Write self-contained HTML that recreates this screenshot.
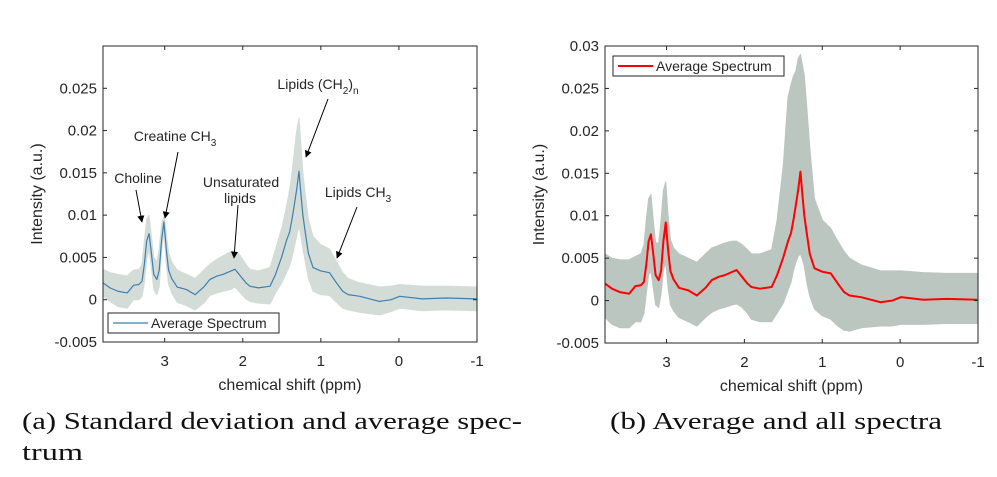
<!DOCTYPE html>
<html><head><meta charset="utf-8"><style>
body{margin:0;background:#fff;width:997px;height:477px;overflow:hidden}
svg{display:block}
text{font-family:"Liberation Sans",sans-serif;fill:#262626}
.cap{font-family:"Liberation Serif",serif;font-size:24px;fill:#111}
</style></head><body>
<svg id="s" width="997" height="477">
<defs><marker id="ah" viewBox="0 0 10 10" refX="9" refY="5" markerWidth="7" markerHeight="7" orient="auto"><path d="M0,0 L10,5 L0,10 z" fill="#000"/></marker></defs>
</svg>
<script>
const ppm   =[3.79,3.70,3.60,3.48,3.40,3.33,3.29,3.26,3.23,3.20,3.17,3.14,3.10,3.07,3.04,3.01,2.98,2.95,2.91,2.84,2.72,2.61,2.50,2.42,2.33,2.25,2.15,2.10,2.03,1.96,1.91,1.80,1.65,1.58,1.50,1.44,1.40,1.37,1.34,1.31,1.28,1.26,1.23,1.20,1.16,1.10,1.00,0.89,0.80,0.72,0.65,0.50,0.25,0.10,-0.01,-0.3,-0.6,-0.99];
const meanV =[0.0020,0.0014,0.0010,0.0008,0.0017,0.0018,0.0022,0.0042,0.0070,0.0078,0.0055,0.0030,0.0024,0.0035,0.0070,0.0092,0.0060,0.0035,0.0025,0.0015,0.0012,0.0006,0.0015,0.0024,0.0028,0.0030,0.0034,0.0036,0.0028,0.0020,0.0016,0.0014,0.0016,0.0030,0.0051,0.0070,0.0080,0.0095,0.0112,0.0130,0.0152,0.0130,0.0100,0.0080,0.0055,0.0038,0.0034,0.0032,0.0020,0.0010,0.0006,0.0004,-0.0002,0.0000,0.0004,0.0001,0.0002,0.0001];
const upperA=[0.0036,0.0032,0.0030,0.0028,0.0035,0.0036,0.0042,0.0070,0.0095,0.0100,0.0075,0.0050,0.0045,0.0060,0.0090,0.0098,0.0080,0.0055,0.0045,0.0035,0.0030,0.0025,0.0035,0.0042,0.0048,0.0052,0.0057,0.0058,0.0052,0.0042,0.0036,0.0034,0.0038,0.0060,0.0085,0.0110,0.0130,0.0150,0.0175,0.0200,0.0215,0.0190,0.0150,0.0125,0.0095,0.0075,0.0065,0.0060,0.0045,0.0032,0.0025,0.0020,0.0015,0.0016,0.0018,0.0016,0.0016,0.0015];
const lowerA=[0.0004,-0.0002,-0.0008,-0.0010,0.0000,0.0000,0.0004,0.0020,0.0048,0.0058,0.0038,0.0012,0.0006,0.0015,0.0055,0.0082,0.0042,0.0018,0.0008,-0.0003,-0.0007,-0.0012,-0.0004,0.0005,0.0008,0.0010,0.0012,0.0015,0.0008,0.0001,-0.0002,-0.0004,-0.0005,0.0008,0.0020,0.0032,0.0040,0.0050,0.0062,0.0075,0.0087,0.0078,0.0060,0.0045,0.0025,0.0010,0.0006,0.0005,-0.0003,-0.0010,-0.0012,-0.0015,-0.0018,-0.0014,-0.0010,-0.0013,-0.0012,-0.0013];
const allUp =[0.0055,0.0050,0.0048,0.0048,0.0052,0.0055,0.0065,0.0095,0.0120,0.0125,0.0095,0.0068,0.0068,0.0095,0.0130,0.0140,0.0100,0.0072,0.0062,0.0055,0.0050,0.0045,0.0055,0.0062,0.0065,0.0068,0.0070,0.0070,0.0066,0.0060,0.0055,0.0055,0.0060,0.0095,0.0160,0.0240,0.0255,0.0265,0.0270,0.0285,0.0290,0.0280,0.0265,0.0230,0.0180,0.0120,0.0095,0.0085,0.0070,0.0058,0.0050,0.0042,0.0035,0.0035,0.0035,0.0033,0.0032,0.0032];
const allLo =[-0.0020,-0.0028,-0.0032,-0.0032,-0.0025,-0.0025,-0.0015,0.0008,0.0030,0.0035,0.0015,-0.0005,-0.0008,0.0008,0.0035,0.0045,0.0015,-0.0005,-0.0012,-0.0020,-0.0025,-0.0030,-0.0020,-0.0014,-0.0010,-0.0008,-0.0005,-0.0004,-0.0008,-0.0015,-0.0022,-0.0025,-0.0025,-0.0015,-0.0003,0.0012,0.0022,0.0035,0.0045,0.0052,0.0055,0.0050,0.0040,0.0022,0.0005,-0.0010,-0.0018,-0.0022,-0.0030,-0.0035,-0.0036,-0.0032,-0.0030,-0.0030,-0.0028,-0.0028,-0.0027,-0.0027];
const xTicks=[3,2,1,0,-1];
const yTicksL=[-0.005,0,0.005,0.01,0.015,0.02,0.025];
const yTicksR=[-0.005,0,0.005,0.01,0.015,0.02,0.025,0.03];
const yLabelsL=["-0.005","0","0.005","0.01","0.015","0.02","0.025"];
const yLabelsR=["-0.005","0","0.005","0.01","0.015","0.02","0.025","0.03"];

const NS="http://www.w3.org/2000/svg", svg=document.getElementById('s');
function mk(tag,attrs,txt){const e=document.createElementNS(NS,tag);for(const k in attrs)e.setAttribute(k,attrs[k]);if(txt!==undefined)e.textContent=txt;svg.appendChild(e);return e;}

function panel(P){
  const sx=v=>P.x0+(P.pmax-v)/(P.pmax-P.pmin)*(P.x1-P.x0);
  const sy=v=>P.y1-(v-P.vmin)/(P.vmax-P.vmin)*(P.y1-P.y0);
  const band=(up,lo)=>ppm.map((p,i)=>sx(p)+','+sy(up[i])).concat(ppm.map((p,i)=>sx(p)+','+sy(lo[i])).reverse()).join(' ');
  const b=mk('polygon',{points:band(P.up,P.lo),fill:P.bandCol,stroke:P.bandCol,'stroke-width':1,'stroke-linejoin':'round'});
  
  
  const line=mk('polyline',{points:ppm.map((p,i)=>sx(p)+','+sy(meanV[i])).join(' '),fill:'none',stroke:P.lineCol,'stroke-width':P.lw,'stroke-linejoin':'round'});
  
  
  const fr=mk('rect',{x:P.x0,y:P.y0,width:P.x1-P.x0,height:P.y1-P.y0,fill:'none',stroke:'#262626','stroke-width':1});
  
  
  xTicks.forEach(t=>{const x=sx(t);
    mk('line',{x1:x,x2:x,y1:P.y1,y2:P.y1-4,stroke:'#262626'});mk('line',{x1:x,x2:x,y1:P.y0,y2:P.y0+4,stroke:'#262626'});
    const l=mk('text',{x:x,y:P.y1+24,'text-anchor':'middle','font-size':15},String(t));
    
    });
  P.yt.forEach((t,i)=>{const y=sy(t);
    mk('line',{x1:P.x0,x2:P.x0+4,y1:y,y2:y,stroke:'#262626'});mk('line',{x1:P.x1,x2:P.x1-4,y1:y,y2:y,stroke:'#262626'});
    const l=mk('text',{x:P.x0-6,y:y+5,'text-anchor':'end','font-size':15},P.yl[i]);
    
    });
  const xl=mk('text',{x:(P.x0+P.x1)/2,y:P.y1+48,'text-anchor':'middle','font-size':16},'chemical shift (ppm)');
  
  
  const yl=mk('text',{x:0,y:0,transform:`translate(${P.x0-61},${(P.y0+P.y1)/2}) rotate(-90)`,'text-anchor':'middle','font-size':16},'Intensity (a.u.)');
  
  
  const lg=mk('rect',{x:P.lx,y:P.ly,width:171,height:20,fill:'#fff',stroke:'#262626','stroke-width':1});
  
  
  mk('line',{x1:P.lx+5,x2:P.lx+40,y1:P.ly+10,y2:P.ly+10,stroke:P.lineCol,'stroke-width':P.lw});
  const lt=mk('text',{x:P.lx+43,y:P.ly+15,'font-size':14},'Average Spectrum');
  
  
}
panel({id:'left',x0:103,x1:477,y0:46,y1:342,pmax:3.79,pmin:-1,vmin:-0.005,vmax:0.03,up:upperA,lo:lowerA,bandCol:'#d4dcd8',lineCol:'#3d7fb0',lw:1.2,yt:yTicksL,yl:yLabelsL,lx:108,ly:313});
panel({id:'right',x0:605,x1:978,y0:46,y1:343,pmax:3.79,pmin:-1,vmin:-0.005,vmax:0.03,up:allUp,lo:allLo,bandCol:'#bcc6c1',lineCol:'#ff0000',lw:2,yt:yTicksR,yl:yLabelsR,lx:613,ly:56});

function ann(txt,tx,ty,x1,y1,x2,y2,name){
  const t=mk('text',{x:tx,y:ty,'text-anchor':'middle','font-size':14},txt);
  
  
  mk('line',{x1,y1,x2,y2,stroke:'#000','stroke-width':1,'marker-end':'url(#ah)'});
  return t;
}
function sub(el,s){const t=document.createElementNS(NS,'tspan');t.setAttribute('font-size',10);t.setAttribute('dy',5);t.textContent=s;el.appendChild(t);return t;}
ann('Choline',138,183,136,190,142,222,'choline-label');
const c=ann('Creatine CH',175,141,178,152,165,218,'creatine-label'); sub(c,'3');
ann('Unsaturated',241,187,238,205,234,258,'unsaturated-lipids-label');
mk('text',{x:240,y:203,'text-anchor':'middle','font-size':14},'lipids');
const l1=ann('Lipids (CH',318,89,328,99,306,157,'lipids-ch2-label');
sub(l1,'2');
const t2=document.createElementNS(NS,'tspan');t2.setAttribute('dy',-5);t2.textContent=')';l1.appendChild(t2);
sub(l1,'n');
const l2=ann('Lipids CH',358,197,357,207,337,258,'lipids-ch3-label'); sub(l2,'3');

const c1=mk('text',{x:22,y:429,class:'cap',textLength:500,lengthAdjust:'spacingAndGlyphs'},'(a) Standard deviation and average spec-');


mk('text',{x:22,y:460,class:'cap',textLength:61,lengthAdjust:'spacingAndGlyphs'},'trum');
const c2=mk('text',{x:610,y:429,class:'cap',textLength:332,lengthAdjust:'spacingAndGlyphs'},'(b) Average and all spectra');


</script>
</body></html>
